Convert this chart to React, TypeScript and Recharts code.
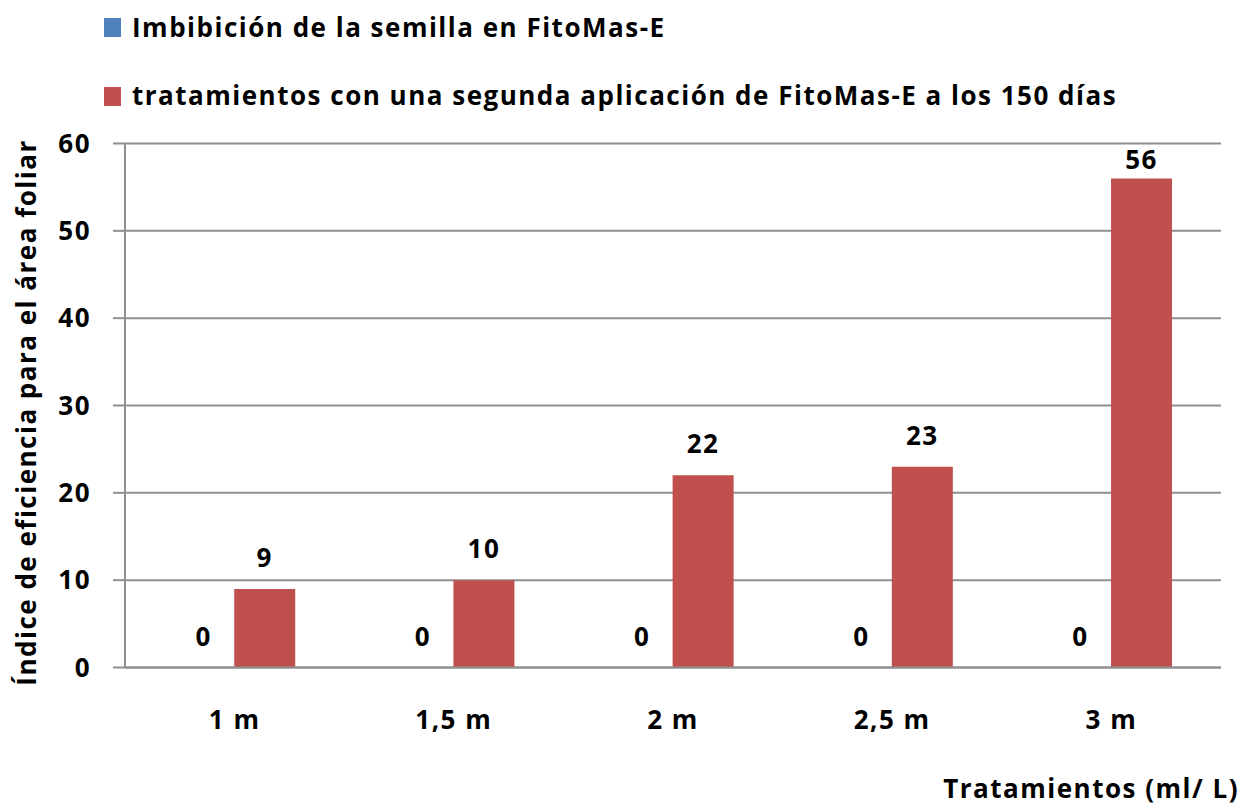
import React from 'react';
import { BarChart, Bar, XAxis, YAxis, CartesianGrid, LabelList, Legend } from 'recharts';

const categories = ['1 m', '1,5 m', '2 m', '2,5 m', '3 m'];
const imbibicion = [0, 0, 0, 0, 0];
const segunda = [9, 10, 22, 23, 56];
const yTicks = [0, 10, 20, 30, 40, 50, 60];
const seriesNames = [
  'Imbibición de la semilla en FitoMas-E',
  'tratamientos con una segunda aplicación de FitoMas-E a los 150 días',
];
const seriesColors = ['#4F81BD', '#C0504D'];
const yTitle = 'Índice de eficiencia para el área foliar';
const xTitle = 'Tratamientos (ml/ L)';

const data = categories.map((c, i) => ({ name: c, a: imbibicion[i], b: segunda[i] }));

const FONT = '"Open Sans", sans-serif';
const GRID = '#8f8f8f';
const FS = 26;
const LS = 1.5;
const PLOT_TOP = 143.5;
const PLOT_BOTTOM = 667.5;
const Y_MAX = 60;

const textStyle = { fontFamily: FONT, fontWeight: 700, fontSize: FS, letterSpacing: LS, fill: '#000' };

const renderLegend = () => (
  <div style={{ fontFamily: FONT, fontWeight: 700, fontSize: FS, letterSpacing: LS, color: '#000', lineHeight: 1 }}>
    {seriesNames.map((n, i) => (
      <React.Fragment key={n}>
        <span
          style={{
            position: 'absolute',
            left: 104,
            top: i === 0 ? 18 : 87,
            width: 17,
            height: 19,
            background: seriesColors[i],
          }}
        />
        <span style={{ position: 'absolute', left: 132, top: i === 0 ? 13.5 : 82, whiteSpace: 'nowrap' }}>{n}</span>
      </React.Fragment>
    ))}
  </div>
);

const YTitle = (props: any) => {
  const vb = props.viewBox || {};
  const cx = 26;
  const cy = vb.y + vb.height / 2 + 7;
  return (
    <text
      x={cx}
      y={cy}
      transform={`rotate(-90, ${cx}, ${cy})`}
      textAnchor="middle"
      dominantBaseline="central"
      style={textStyle}
    >
      {yTitle}
    </text>
  );
};

const XTitle = (props: any) => {
  const vb = props.viewBox || {};
  return (
    <text x={vb.x + vb.width + 18} y={vb.y + vb.height - 8} textAnchor="end" style={textStyle}>
      {xTitle}
    </text>
  );
};

// Labels for both series, drawn from the second series' bar geometry
// (recharts skips labels of zero-height bars).
const PairLabels = (props: any) => {
  const { x, y, width, value, index } = props;
  if (x == null || y == null) return null;
  const w = Number(width);
  const redCx = Number(x) + w / 2;
  const blueCx = Number(x) - w / 2;
  const redBase = Math.max(Number(y) - 22, PLOT_TOP + 25);
  const aVal = imbibicion[index];
  const blueTop = PLOT_BOTTOM - (aVal / Y_MAX) * (PLOT_BOTTOM - PLOT_TOP);
  const blueBase = Math.max(blueTop - 22, PLOT_TOP + 25);
  return (
    <g>
      <text x={blueCx} y={blueBase} textAnchor="middle" style={textStyle}>
        {aVal}
      </text>
      <text x={redCx} y={redBase} textAnchor="middle" style={textStyle}>
        {value}
      </text>
    </g>
  );
};

export default function App() {
  return (
    <div style={{ position: 'absolute', left: 0, top: 0, width: 1244, height: 806, background: '#fff' }}>
      <BarChart
        width={1244}
        height={806}
        data={data}
        margin={{ top: PLOT_TOP, right: 23, bottom: 0, left: 0 }}
        barCategoryGap="22%"
        barGap={0}
      >
        <CartesianGrid vertical={false} stroke={GRID} strokeWidth={2} />
        <XAxis
          dataKey="name"
          height={138.5}
          tickLine={false}
          axisLine={{ stroke: GRID, strokeWidth: 2 }}
          tick={textStyle}
          tickMargin={37}
          interval={0}
          label={<XTitle />}
        />
        <YAxis
          width={125}
          domain={[0, Y_MAX]}
          ticks={yTicks}
          interval={0}
          tickSize={12}
          tickMargin={22}
          tickLine={{ stroke: GRID, strokeWidth: 2 }}
          axisLine={{ stroke: GRID, strokeWidth: 2 }}
          tick={textStyle}
          label={<YTitle />}
        />
        <Legend
          layout="vertical"
          align="center"
          verticalAlign="middle"
          wrapperStyle={{ top: 0, left: 0, width: 1244, height: 0 }}
          content={renderLegend}
        />
        <Bar dataKey="a" name={seriesNames[0]} fill={seriesColors[0]} isAnimationActive={false} />
        <Bar dataKey="b" name={seriesNames[1]} fill={seriesColors[1]} isAnimationActive={false}>
          <LabelList dataKey="b" content={<PairLabels />} />
        </Bar>
      </BarChart>
    </div>
  );
}
